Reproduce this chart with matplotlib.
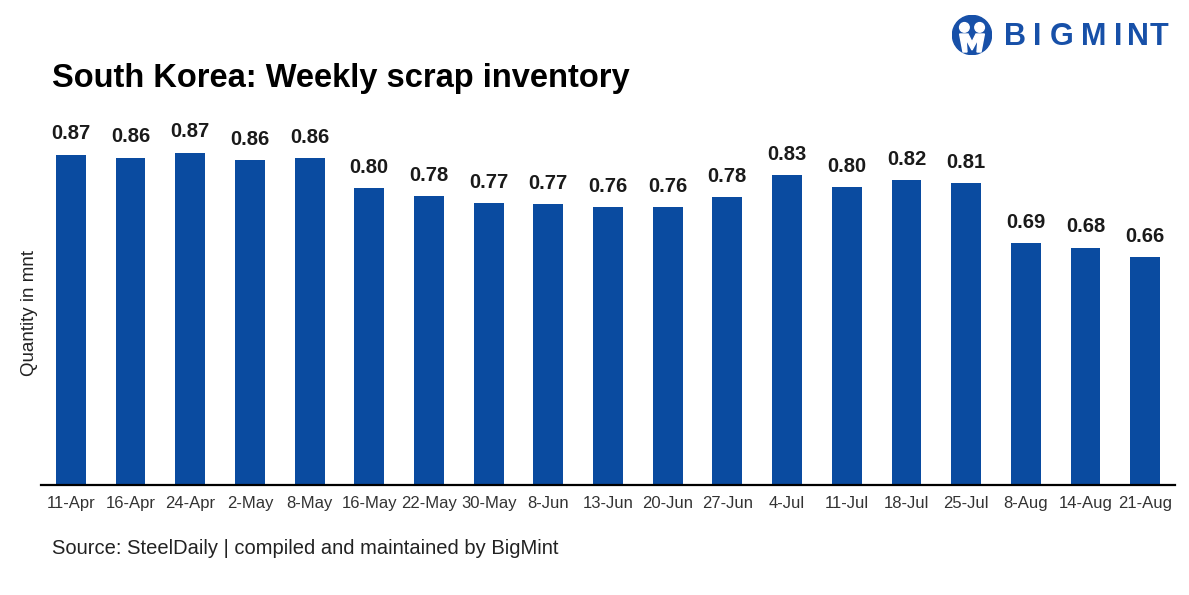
import matplotlib.pyplot as plt
from matplotlib.patches import Circle, Polygon

plt.rcParams['font.family'] = ['Liberation Sans', 'DejaVu Sans']

weeks = ["11-Apr", "16-Apr", "24-Apr", "2-May", "8-May", "16-May", "22-May",
         "30-May", "8-Jun", "13-Jun", "20-Jun", "27-Jun", "4-Jul", "11-Jul",
         "18-Jul", "25-Jul", "8-Aug", "14-Aug", "21-Aug"]
inventory = [0.868, 0.862, 0.872, 0.857, 0.861, 0.800, 0.784, 0.770, 0.768,
             0.762, 0.762, 0.782, 0.826, 0.802, 0.816, 0.810, 0.690, 0.680, 0.660]

BAR_COLOR = "#0a4ba0"

fig = plt.figure(figsize=(11.89, 5.95), dpi=100)
ax = fig.add_axes([41 / 1189, 1 - 485 / 595, (1175 - 41) / 1189, 371 / 595])

x = range(len(weeks))
bars = ax.bar(x, inventory, width=0.5, color=BAR_COLOR, zorder=2)
ax.set_ylim(0.2, 0.95)
ax.set_xlim(-0.5, len(weeks) - 0.5)

for b, v in zip(bars, inventory):
    ax.annotate(f"{v:.2f}", (b.get_x() + b.get_width() / 2, v),
                xytext=(0, 8), textcoords="offset points",
                ha="center", va="bottom", fontsize=14.5, fontweight="bold",
                color="#1a1a1a")

ax.set_xticks(list(x))
ax.set_xticklabels(weeks, fontsize=12, color="#333333")
ax.tick_params(axis="x", length=0, pad=8)
ax.set_yticks([])
for s in ["top", "right", "left"]:
    ax.spines[s].set_visible(False)
ax.spines["bottom"].set_linewidth(1.6)
ax.spines["bottom"].set_color("black")

ax.set_ylabel("Quantity in mnt", fontsize=13.5, color="#222222")
ax.yaxis.set_label_coords(-0.003, 0.464)

fig.text(52 / 1189, 1 - 78 / 595, "South Korea: Weekly scrap inventory",
         fontsize=23.5, fontweight="bold", color="black", va="center", ha="left")
fig.text(52 / 1189, 1 - 549 / 595,
         "Source: SteelDaily | compiled and maintained by BigMint",
         fontsize=14.5, color="#222222", va="center", ha="left")

# logo
LOGO = "#1750a8"
letters = ["B", "I", "G", "M", "I", "N", "T"]
letter_x = [1015, 1037, 1062, 1094, 1118, 1138, 1159]
for ch, lx in zip(letters, letter_x):
    fig.text(lx / 1189, 1 - 37 / 595, ch, fontsize=22, fontweight="heavy",
             color=LOGO, ha="center", va="center")

W, H = 1189, 595
icon = fig.add_axes([952 / W, 1 - 55 / H, 40 / W, 40 / H])
icon.set_xlim(-1, 1)
icon.set_ylim(-1, 1)
icon.set_aspect("equal")
icon.axis("off")
icon.add_patch(Circle((0, 0), 0.98, color=LOGO))
icon.add_patch(Circle((-0.38, 0.38), 0.24, color="white"))
icon.add_patch(Circle((0.38, 0.38), 0.24, color="white"))
icon.add_patch(Polygon([(-0.62, 0.05), (-0.2, 0.05), (0, -0.35), (0.2, 0.05),
                        (0.62, 0.05), (0.45, -0.85), (0.25, -0.85), (0.3, -0.2),
                        (0, -0.75), (-0.3, -0.2), (-0.25, -0.85), (-0.45, -0.85)],
                       color="white"))

fig.savefig("out.png", dpi=100)
